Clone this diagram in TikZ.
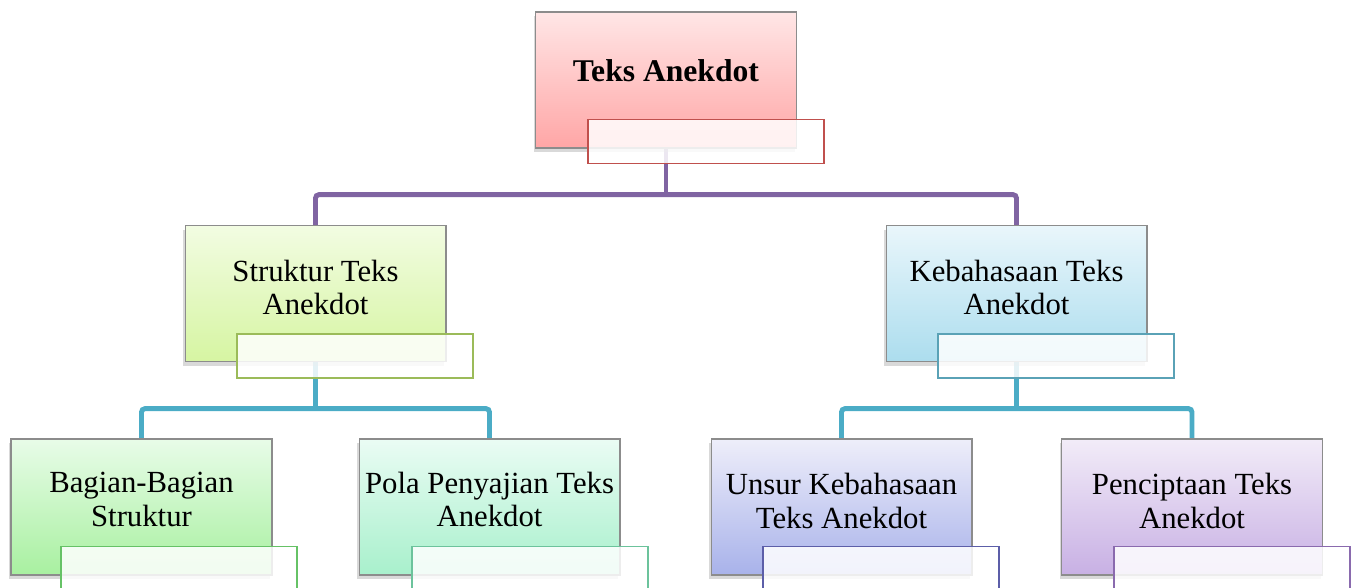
\documentclass[tikz,border=0pt]{standalone}
\usepackage{fontspec}
\setmainfont{Liberation Serif}
\usetikzlibrary{positioning,calc,shadows,backgrounds}
\definecolor{rootTop}{HTML}{FFE6E6}
\definecolor{rootBot}{HTML}{FFA6A6}
\definecolor{rootLine}{HTML}{C0504D}
\definecolor{strTop}{HTML}{F2FCE2}
\definecolor{strBot}{HTML}{D6F5A2}
\definecolor{strLine}{HTML}{9BBB59}
\definecolor{kebTop}{HTML}{E9F6FB}
\definecolor{kebBot}{HTML}{ACDDEE}
\definecolor{kebLine}{HTML}{5AA2B6}
\definecolor{bagTop}{HTML}{E8FCE8}
\definecolor{bagBot}{HTML}{A8F0A0}
\definecolor{bagLine}{HTML}{66C266}
\definecolor{polTop}{HTML}{EAFCF4}
\definecolor{polBot}{HTML}{A8F0CC}
\definecolor{polLine}{HTML}{6CC39C}
\definecolor{unsTop}{HTML}{EEEEFA}
\definecolor{unsBot}{HTML}{A8B2EA}
\definecolor{unsLine}{HTML}{5C5EA8}
\definecolor{ciptaTop}{HTML}{F2ECF8}
\definecolor{ciptaBot}{HTML}{C8B0E4}
\definecolor{ciptaLine}{HTML}{8A6AAE}
\definecolor{lineUngu}{HTML}{8064A2}
\definecolor{lineTosca}{HTML}{4BACC6}

\begin{document}
\begin{tikzpicture}[x=0.02cm, y=-0.02cm,
    kotak/.style={draw=black!45, line width=0.6pt, minimum width=5.22cm, minimum height=2.72cm, inner sep=0pt,
        drop shadow={shadow xshift=-1pt, shadow yshift=-2.5pt, opacity=0.3}},
    keterangan/.style={draw, line width=1pt, fill=white, fill opacity=0.85, minimum width=4.72cm,
        minimum height=0.88cm, anchor=north west, inner sep=0pt},
    tulisan/.style={font=\fontsize{17.5}{19}\selectfont, align=center},
    garis/.style={line width=2.8pt, rounded corners=2pt}]
    \useasboundingbox (0,0) rectangle (1357,588);

    % Top box
    \node[kotak, top color=rootTop, bottom color=rootBot] (root) at (666,80) {};
    \node[keterangan, draw=rootLine] (rootK) at ([xshift=1.04cm, yshift=0.6cm]root.south west) {};
    \node[tulisan, font=\fontsize{18}{20}\selectfont\bfseries] (rootT) at ([yshift=0.18cm]root.center) {Teks Anekdot};

    % Second row
    \node[kotak, top color=strTop, bottom color=strBot] (kiri) at (315.5,293.5) {};
    \node[keterangan, draw=strLine] (kiriK) at ([xshift=1.04cm, yshift=0.58cm]kiri.south west) {};
    \node[tulisan] (kiriT) at ([yshift=0.12cm]kiri.center) {Struktur Teks\\Anekdot};

    \node[kotak, top color=kebTop, bottom color=kebBot] (kanan) at (1016.5,293.5) {};
    \node[keterangan, draw=kebLine] (kananK) at ([xshift=1.04cm, yshift=0.58cm]kanan.south west) {};
    \node[tulisan] (kananT) at ([yshift=0.12cm]kanan.center) {Kebahasaan Teks\\Anekdot};

    % Third row
    \node[kotak, top color=bagTop, bottom color=bagBot] (bagian) at (141.5,507) {};
    \node[keterangan, draw=bagLine] (bagianK) at ([xshift=1.0cm, yshift=0.6cm]bagian.south west) {};
    \node[tulisan] (bagianT) at ([yshift=0.15cm]bagian.center) {Bagian-Bagian\\Struktur};

    \node[kotak, top color=polTop, bottom color=polBot] (pola) at (489.5,507) {};
    \node[keterangan, draw=polLine] (polaK) at ([xshift=1.06cm, yshift=0.6cm]pola.south west) {};
    \node[tulisan] (polaT) at ([yshift=0.15cm]pola.center) {Pola Penyajian Teks\\Anekdot};

    \node[kotak, top color=unsTop, bottom color=unsBot] (unsur) at (841.5,507) {};
    \node[keterangan, draw=unsLine] (unsurK) at ([xshift=1.04cm, yshift=0.6cm]unsur.south west) {};
    \node[tulisan] (unsurT) at ([yshift=0.12cm]unsur.center) {Unsur Kebahasaan\\Teks Anekdot};

    \node[kotak, top color=ciptaTop, bottom color=ciptaBot] (cipta) at (1192,507) {};
    \node[keterangan, draw=ciptaLine] (ciptaK) at ([xshift=1.04cm, yshift=0.6cm]cipta.south west) {};
    \node[tulisan] (ciptaT) at ([yshift=0.12cm]cipta.center) {Penciptaan Teks\\Anekdot};

    % Connectors
    \coordinate (bar1) at ($(rootK.south)!0.5!(kiri.north)$);
    \coordinate (bar2) at ($(kiriK.south)!0.5!(bagian.north)$);
    \coordinate (bar3) at ($(kananK.south)!0.5!(unsur.north)$);
    \begin{scope}[on background layer]
        \draw[garis, draw=lineUngu] (root.south) -- (root.south |- bar1);
        \draw[garis, draw=lineUngu] (kiri.north) |- (bar1) -| (kanan.north);
        \draw[garis, draw=lineTosca] (kiri.south) -- (kiri.south |- bar2);
        \draw[garis, draw=lineTosca] (bagian.north) |- (bar2) -| (pola.north);
        \draw[garis, draw=lineTosca] (kanan.south) -- (kanan.south |- bar3);
        \draw[garis, draw=lineTosca] (unsur.north) |- (bar3) -| (cipta.north);
    \end{scope}
\end{tikzpicture}
\end{document}
